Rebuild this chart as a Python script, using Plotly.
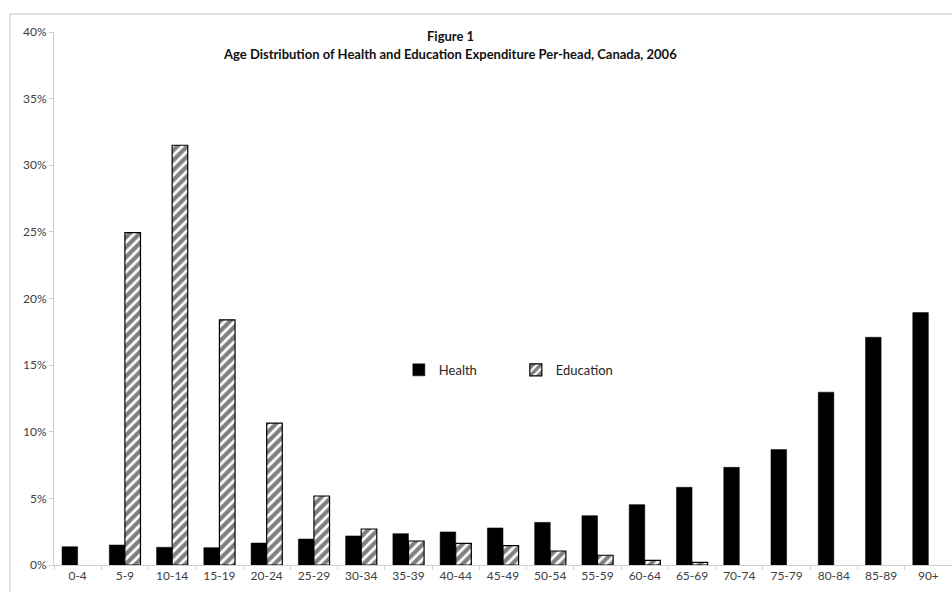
import plotly.graph_objects as go

age_groups = ["0-4", "5-9", "10-14", "15-19", "20-24", "25-29", "30-34", "35-39", "40-44",
              "45-49", "50-54", "55-59", "60-64", "65-69", "70-74", "75-79", "80-84", "85-89", "90+"]
health = [1.37, 1.5, 1.33, 1.3, 1.65, 1.95, 2.18, 2.35, 2.48,
          2.78, 3.2, 3.7, 4.53, 5.83, 7.33, 8.66, 12.97, 17.09, 18.94]
education = [None, 24.95, 31.5, 18.4, 10.64, 5.18, 2.7, 1.8, 1.63,
             1.45, 1.05, 0.73, 0.35, 0.2, None, None, None, None, None]
y_ticks = [0, 5, 10, 15, 20, 25, 30, 35, 40]
y_ticklabels = [f"{v}%" for v in y_ticks]
title_line1 = "Figure 1"
title_line2 = "Age Distribution of Health and Education Expenditure Per-head, Canada, 2006"

FONT = "Lato, Open Sans, sans-serif"

fig = go.Figure()
fig.add_trace(go.Bar(
    x=age_groups, y=health, name="Health",
    marker=dict(color="black", line=dict(color="black", width=0.5)),
))
fig.add_trace(go.Bar(
    x=age_groups, y=education, name="Education",
    marker=dict(color="white", line=dict(color="black", width=1.2),
                pattern=dict(shape="/", fgcolor="black", bgcolor="white", size=7, solidity=0.6)),
))

fig.update_layout(
    width=952, height=592,
    margin=dict(l=54, r=0, t=32, b=27),
    paper_bgcolor="white", plot_bgcolor="white",
    barmode="group", bargap=0.34, bargroupgap=0,
    font=dict(family=FONT, size=12, color="#404040"),
    showlegend=True,
    legend=dict(orientation="h", x=0.384, y=0.366, xanchor="left", yanchor="middle",
                font=dict(family=FONT, size=13, color="#262626"),
                itemwidth=30, entrywidth=72, bgcolor="rgba(0,0,0,0)"),
    xaxis=dict(type="category", showgrid=False, showline=True, linecolor="#d0d0d0", linewidth=1,
               ticks="outside", tickson="boundaries", ticklen=4, tickcolor="#d0d0d0",
               tickfont=dict(family=FONT, size=12, color="#404040")),
    yaxis=dict(range=[0, 40], tickvals=y_ticks, ticktext=y_ticklabels, showgrid=False,
               showline=True, linecolor="#d0d0d0", linewidth=1, zeroline=False,
               ticks="outside", ticklen=4, tickcolor="#d0d0d0",
               tickfont=dict(family=FONT, size=12, color="#404040")),
    shapes=[dict(type="rect", xref="paper", yref="paper", x0=-0.049, x1=1.02, y0=-0.2, y1=1.0338,
                 line=dict(color="#d9d9d9", width=1.5), fillcolor="rgba(0,0,0,0)", layer="below")],
    annotations=[
        dict(text=f"<b>{title_line1}</b>", xref="paper", yref="paper", x=0.441, y=(565 - 36) / 533,
             xanchor="center", yanchor="middle", showarrow=False,
             font=dict(family=FONT, size=13, color="#111111")),
        dict(text=f"<b>{title_line2}</b>", xref="paper", yref="paper", x=0.441, y=(565 - 54) / 533,
             xanchor="center", yanchor="middle", showarrow=False,
             font=dict(family=FONT, size=13, color="#111111")),
    ],
)

fig.write_html("out.html", config={"displayModeBar": False},
               post_script="document.body.style.margin='0';document.body.style.overflow='hidden';")
